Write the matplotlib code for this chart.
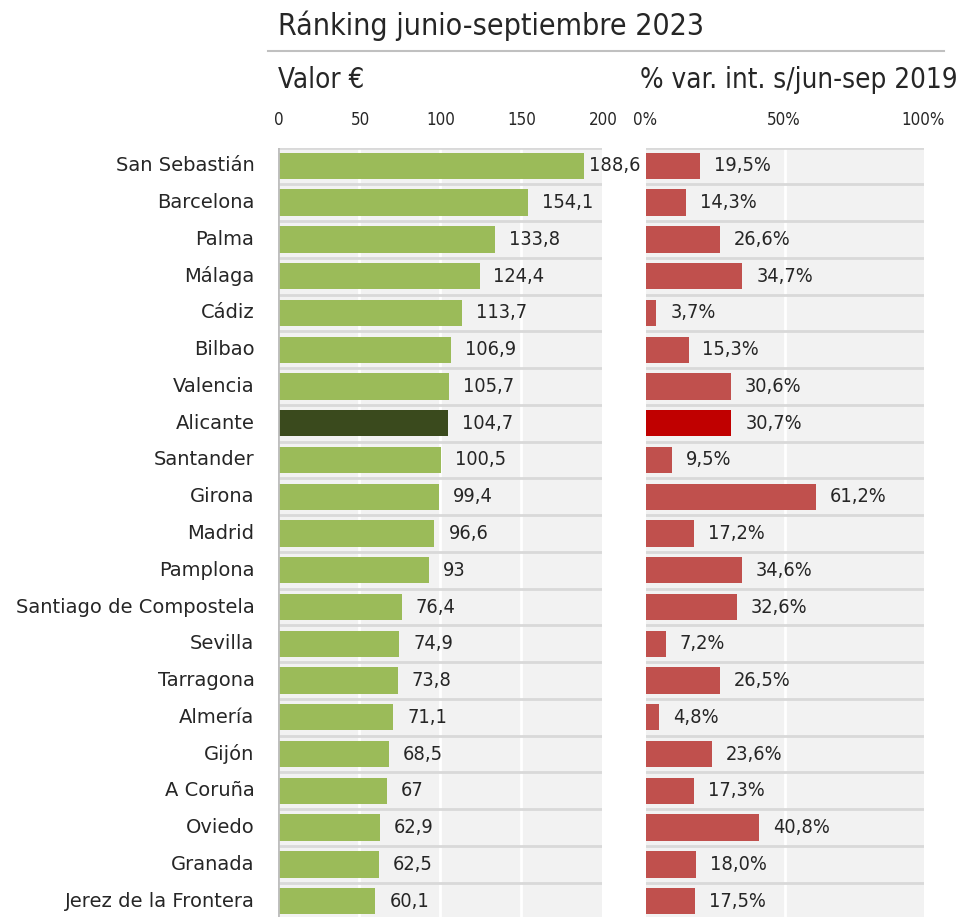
import matplotlib
matplotlib.use("Agg")
import matplotlib.pyplot as plt
from matplotlib import font_manager as fm

cities = ["San Sebastián", "Barcelona", "Palma", "Málaga", "Cádiz", "Bilbao", "Valencia",
          "Alicante", "Santander", "Girona", "Madrid", "Pamplona", "Santiago de Compostela",
          "Sevilla", "Tarragona", "Almería", "Gijón", "A Coruña", "Oviedo", "Granada",
          "Jerez de la Frontera"]
valor = [188.6, 154.1, 133.8, 124.4, 113.7, 106.9, 105.7, 104.7, 100.5, 99.4, 96.6, 93,
         76.4, 74.9, 73.8, 71.1, 68.5, 67, 62.9, 62.5, 60.1]
valor_labels = ["188,6", "154,1", "133,8", "124,4", "113,7", "106,9", "105,7", "104,7", "100,5",
                "99,4", "96,6", "93", "76,4", "74,9", "73,8", "71,1", "68,5", "67", "62,9",
                "62,5", "60,1"]
var_pct = [19.5, 14.3, 26.6, 34.7, 3.7, 15.3, 30.6, 30.7, 9.5, 61.2, 17.2, 34.6, 32.6, 7.2,
           26.5, 4.8, 23.6, 17.3, 40.8, 18.0, 17.5]
left_ticks = [0, 50, 100, 150, 200]
right_ticks = [0, 50, 100]
highlight = "Alicante"

title = "Ránking junio-septiembre 2023"
left_title = "Valor €"
right_title = "% var. int. s/jun-sep 2019"

avail = {f.name for f in fm.fontManager.ttflist}
if "Liberation Sans Narrow" in avail:
    narrow = dict(family="Liberation Sans Narrow")
else:
    narrow = dict(family="DejaVu Sans", stretch="condensed")

W, H = 959, 917
fig = plt.figure(figsize=(W / 100, H / 100), dpi=100)
renderer = fig.canvas.get_renderer()

def fx(px):
    return px / W

def fy(py):
    return 1 - py / H

def fit_size(s, target_w, **fp):
    t = fig.text(0, 0, s, fontsize=10, **fp)
    w = t.get_window_extent(renderer=renderer).width
    t.remove()
    return 10 * target_w / w

n = len(cities)
top_px, bot_px = 147.6, 919.4
axL = fig.add_axes([fx(278), fy(bot_px), fx(602) - fx(278), (bot_px - top_px) / H])
axR = fig.add_axes([fx(646), fy(bot_px), fx(924) - fx(646), (bot_px - top_px) / H])

bg = "#f2f2f2"
sep = "#d9d9d9"
for ax, xmax, grid in [(axL, 200, [50, 100, 150]), (axR, 100, [50])]:
    ax.set_facecolor(bg)
    ax.set_xlim(0, xmax)
    ax.set_ylim(n - 0.5, -0.5)
    for s in ax.spines.values():
        s.set_visible(False)
    ax.set_xticks([])
    ax.set_yticks([])
    for g in grid:
        ax.axvline(g, color="white", lw=2, zorder=1)
    for k in range(n + 1):
        ax.axhline(k - 0.5, color=sep, lw=2, zorder=1)

axL.axvline(0, color="#bfbfbf", lw=2, zorder=3)

green = ["#3a4a1d" if c == highlight else "#9bbb59" for c in cities]
red = ["#c00000" if c == highlight else "#c0504d" for c in cities]
y = list(range(n))
axL.barh(y, valor, height=0.72, color=green, zorder=2)
axR.barh(y, var_pct, height=0.72, color=red, zorder=2)

txt = "#262626"
lab_size = fit_size("188,6", 51, **narrow)
for i, (v, t) in enumerate(zip(valor, valor_labels)):
    off = 4 if v > 180 else 10
    axL.annotate(t, (v, i), xytext=(off, 0), textcoords="offset points",
                 va="center", ha="left", fontsize=lab_size, color=txt, **narrow)
for i, v in enumerate(var_pct):
    axR.annotate(f"{v:.1f}%".replace(".", ","), (v, i), xytext=(10, 0),
                 textcoords="offset points", va="center", ha="left",
                 fontsize=lab_size, color=txt, **narrow)

cat_size = fit_size("Santiago de Compostela", 240, family="DejaVu Sans")
for i, c in enumerate(cities):
    axL.annotate(c, (0, i), xytext=(-17, 0), textcoords="offset points",
                 va="center", ha="right", family="DejaVu Sans", fontsize=cat_size, color=txt)

tick_size = fit_size("100", 29, **narrow)
for t in left_ticks:
    xp = 278 + (602 - 278) * t / 200
    fig.text(fx(xp + 1), fy(120), str(t), ha="center", va="center", fontsize=tick_size, color=txt, **narrow)
for t in right_ticks:
    xp = 646 + (924 - 646) * t / 100
    fig.text(fx(xp - 1), fy(120), f"{t}%", ha="center", va="center", fontsize=tick_size, color=txt, **narrow)

fig.text(fx(278), fy(26), title, fontsize=fit_size(title, 427, **narrow), color=txt,
         va="center", ha="left", **narrow)
fig.add_artist(plt.Line2D([fx(268), fx(944)], [fy(51), fy(51)], color="#c0c0c0", lw=1.5))
head_size = fit_size(right_title, 318, **narrow)
fig.text(fx(278), fy(80), left_title, fontsize=head_size, color=txt, va="center", ha="left", **narrow)
fig.text(fx(640), fy(80), right_title, fontsize=head_size, color=txt, va="center", ha="left", **narrow)

fig.savefig("out.png", dpi=100, facecolor="white")
